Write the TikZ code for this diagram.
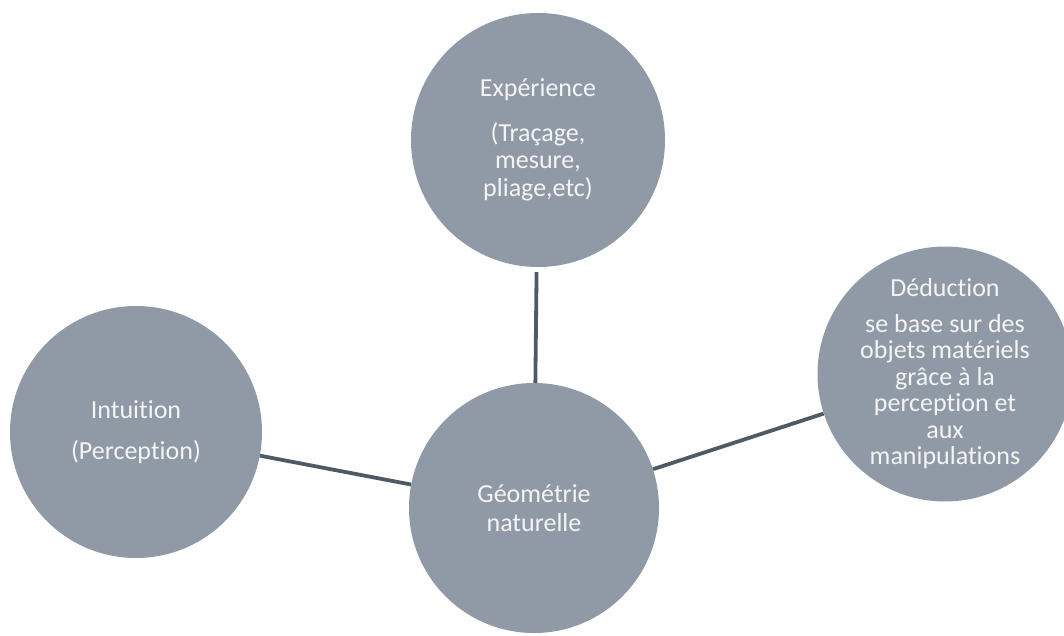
\documentclass[tikz,border=0pt]{standalone}
\usepackage{fontspec}
\setmainfont{Carlito}[Ligatures=NoCommon]
\definecolor{circfill}{HTML}{8F9AA6}
\definecolor{linkcol}{HTML}{505A64}
\definecolor{txtcol}{HTML}{F4F4F4}
\begin{document}
\begin{tikzpicture}[x=1pt,y=-1pt,
  bubble/.style={circle,fill=circfill,draw=none,inner sep=0pt,text=txtcol,align=center,font=\fontsize{26}{27.5}\selectfont},
  link/.style={draw=linkcol,line width=3.8pt}]
\useasboundingbox (0,0) rectangle (1064,635);
\node[bubble,minimum size=254pt] (exp) at (538,140) {Expérience\\[17pt](Traçage,\\mesure,\\pliage,etc)};
\node[bubble,minimum size=250pt,font=\fontsize{26}{29}\selectfont] (geo) at (534,508) {Géométrie\\naturelle};
\node[bubble,minimum size=252pt] (int) at (136,432) {Intuition\\[13pt](Perception)};
\node[bubble,minimum size=246pt,font=\fontsize{26}{26.5}\selectfont] (ded) at (945,374) {Déduction\\[9pt]se base sur des\\objets matériels\\grâce à la\\perception et\\aux\\manipulations};
\draw[link,shorten <=5pt] (exp) -- (geo);
\draw[link] (int) -- (geo);
\draw[link] (geo) -- (ded);
\end{tikzpicture}
\end{document}
